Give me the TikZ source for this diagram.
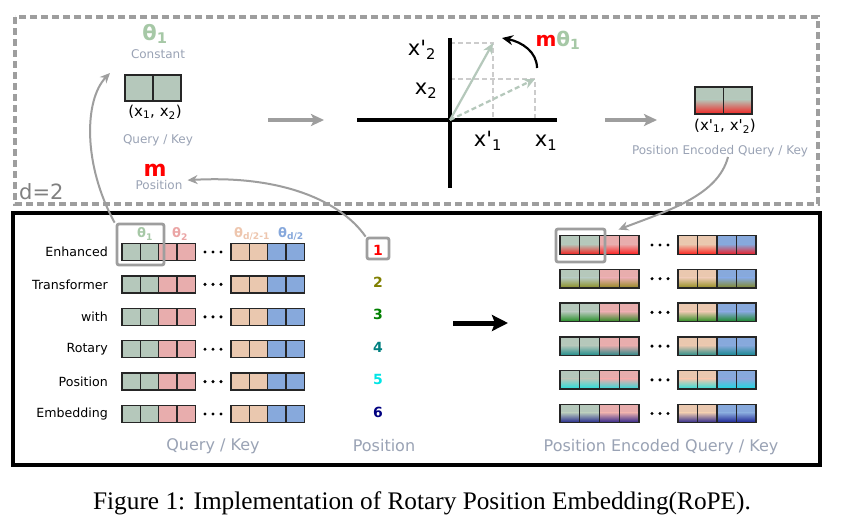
\documentclass[tikz,border=0pt]{standalone}
\usepackage{fontspec}
\setmainfont{DejaVu Sans}
\newfontfamily\capfont{Liberation Serif}
\usetikzlibrary{arrows.meta}
\definecolor{qg}{HTML}{B5C8BB}
\definecolor{qp}{HTML}{E8ADAD}
\definecolor{qo}{HTML}{EAC8AF}
\definecolor{qb}{HTML}{87A9DC}
\definecolor{tg}{HTML}{A6C8A6}
\definecolor{tp}{HTML}{EBA5A5}
\definecolor{to}{HTML}{EEC6AE}
\definecolor{tb}{HTML}{86A8DC}
\definecolor{lbl}{HTML}{9AA3B5}
\definecolor{dgray}{HTML}{9E9E9E}
\definecolor{lgray}{HTML}{CCCCCC}
\definecolor{pcA}{HTML}{FF0000}
\definecolor{pcB}{HTML}{808000}
\definecolor{pcC}{HTML}{008000}
\definecolor{pcD}{HTML}{008080}
\definecolor{pcE}{HTML}{00E5E5}
\definecolor{pcF}{HTML}{000080}
\newcommand\fs[1]{\fontsize{#1}{#1}\selectfont}
% plain row of cells: x0, ytop, w, h, colours
\newcommand\cellsrow[5]{%
  \foreach \cc [count=\ii from 0] in {#5} {
    \fill[\cc] ({#1+\ii*#3},#2) rectangle ++(#3,#4);
    \draw[cellb] ({#1+\ii*#3},#2) rectangle ++(#3,#4);
  }}
% encoded row of cells: x0, ytop, w, h, colours, position colour
\newcommand\gcellsrow[6]{%
  \foreach \cc [count=\ii from 0] in {#5} {
    \fill[\cc] ({#1+\ii*#3},#2) rectangle ++(#3,#4);
    \shade[top color=\cc, bottom color=#6!82!\cc] ({#1+\ii*#3},{#2+0.45*#4}) rectangle ++(#3,{0.55*#4});
    \draw[cellb] ({#1+\ii*#3},#2) rectangle ++(#3,#4);
  }}
\newcommand\threedots[2]{%
  \foreach \dd in {-8,0,8} {\fill (#1+\dd,#2) circle (1.7);}}
\tikzset{
  cellb/.style={draw=black!85, line width=1.4pt},
  smalllbl/.style={font=\fs{12}, text=lbl, inner sep=0pt},
  biglbl/.style={font=\fs{16}, text=lbl, inner sep=0pt},
  rowlbl/.style={font=\fs{12.6}, inner sep=0pt, anchor=east},
  axlbl/.style={font=\fs{21}, inner sep=0pt},
  numlbl/.style={font=\fs{14}\bfseries, inner sep=0pt},
  thlbl/.style={font=\fs{13}\bfseries, inner sep=0pt},
  hlbox/.style={draw=dgray, line width=2.8pt, rounded corners=2pt, inner sep=0pt},
  grayarrow/.style={draw=dgray, line width=2pt, -{Stealth[length=10pt,width=9pt]}},
  fatgray/.style={draw=dgray, line width=4pt, -{Stealth[length=13pt,width=12pt,inset=3pt]}},
  vecarrow/.style={draw=qg, line width=2.2pt, -{Stealth[length=11pt,width=10pt]}},
  guide/.style={draw=lgray, line width=1.8pt, dashed, dash pattern=on 5pt off 3pt},
}
\begin{document}
\begin{tikzpicture}[x=1pt,y=-1pt]
\useasboundingbox (0,0) rectangle (843,531);
\fill[white] (0,0) rectangle (843,531);
% ---------- top dashed panel ----------
\draw[dgray, line width=3.2pt, dash pattern=on 7pt off 4pt] (15,17) rectangle (818,204);
\node[font=\fs{21}, text=black!50, inner sep=0pt, anchor=base west] (dtwo) at (19,199) {d=2};
\node[font=\fs{21}\bfseries, text=tg, inner sep=0pt] (th1) at (155,34) {θ\textsubscript{1}};
\node[smalllbl] (const) at (158,54) {Constant};
\cellsrow{125}{75}{28}{26}{qg,qg}
\node[font=\fs{15}, inner sep=0pt] (qkx) at (155,112) {(x\textsubscript{1}, x\textsubscript{2})};
\node[smalllbl] (qklbl) at (158,140) {Query / Key};
\node[font=\fs{22}\bfseries, text=red, inner sep=0pt] (mm) at (155,170) {m};
\node[smalllbl] (poslbl) at (159,185) {Position};
\coordinate (qkR) at (268,120);
\coordinate (axL) at (324,120);
\draw[fatgray] (qkR) -- (axL);
% axes
\coordinate (orig) at (450,120);
\coordinate (xa) at (357,120);
\coordinate (xb) at (557,120);
\coordinate (ya) at (450,38);
\coordinate (yb) at (450,188);
\coordinate (pnew) at (493,43);
\coordinate (pold) at (535,79);
\draw[guide] (450,43) -- (pnew) -- (493,120);
\draw[guide] (450,79) -- (pold) -- (535,120);
\draw[black, line width=3.2pt] (xa) -- (xb);
\draw[black, line width=3.2pt] (ya) -- (yb);
\draw[vecarrow] (orig) -- (pnew);
\draw[vecarrow, dashed, dash pattern=on 5pt off 3pt] (orig) -- (pold);
\coordinate (rotA) at (537,68);
\coordinate (rotB) at (502,38);
\draw[black, line width=2.2pt, -{Stealth[length=11pt,width=10pt]}] (rotA) .. controls (537,52) and (522,42) .. (rotB);
\node[font=\fs{20}\bfseries, inner sep=0pt] (mth) at (558,40) {\textcolor{red}{m}\textcolor{tg}{θ\textsubscript{1}}};
\node[axlbl] (lx2p) at (422,50) {x\textquotesingle\textsubscript{2}};
\node[axlbl] (lx2) at (426,91) {x\textsubscript{2}};
\node[axlbl] (lx1p) at (488,141) {x\textquotesingle\textsubscript{1}};
\node[axlbl] (lx1) at (546,143) {x\textsubscript{1}};
\coordinate (axR) at (605,120);
\coordinate (peL) at (657,120);
\draw[fatgray] (axR) -- (peL);
\gcellsrow{695}{87}{28.5}{27}{qg,qg}{pcA}
\node[font=\fs{15}, inner sep=0pt] (pex) at (725,126) {(x\textquotesingle\textsubscript{1}, x\textquotesingle\textsubscript{2})};
\node[smalllbl] (peqk) at (720,151) {Position Encoded Query / Key};
% ---------- bottom panel ----------
\draw[black, line width=3.5pt] (13,213) rectangle (820,465);
\node[thlbl, text=tg] (t1) at (145,234) {θ\textsubscript{1}};
\node[thlbl, text=tp] (t2) at (180,234) {θ\textsubscript{2}};
\node[thlbl, text=to] (t3) at (252,234) {θ\textsubscript{d/2-1}};
\node[thlbl, text=tb] (t4) at (291,234) {θ\textsubscript{d/2}};
\foreach \k/\w/\pc in {1/Enhanced/pcA,2/Transformer/pcB,3/with/pcC,4/Rotary/pcD,5/Position/pcE,6/Embedding/pcF} {
  \pgfmathsetmacro\yc{252+32.4*(\k-1)}
  \node[rowlbl] (row\k) at (108,\yc) {\w};
  \cellsrow{122}{\yc-8.5}{18.3}{17}{qg,qg,qp,qp}
  \threedots{213}{\yc}
  \cellsrow{231}{\yc-8.5}{18.3}{17}{qo,qo,qb,qb}
  \node[numlbl, text=\pc] (num\k) at (378,\yc-2) {\k};
  \pgfmathsetmacro\yr{245+33.7*(\k-1)}
  \gcellsrow{560}{\yr-9.25}{19.75}{18.5}{qg,qg,qp,qp}{\pc}
  \threedots{660}{\yr}
  \gcellsrow{678}{\yr-9.25}{19.5}{18.5}{qo,qo,qb,qb}{\pc}
}
\node[hlbox, minimum width=47pt, minimum height=41pt] (hlL) at (140.5,244.5) {};
\node[hlbox, minimum width=22pt, minimum height=21pt] (p1box) at (378,248.5) {};
\node[hlbox, minimum width=49pt, minimum height=33pt] (hlR) at (580.5,245.5) {};
\node[biglbl] (bqk) at (213,446) {Query / Key};
\node[biglbl] (bpos) at (384,446) {Position};
\node[biglbl] (bpe) at (661,447) {Position Encoded Query / Key};
\coordinate (bigA) at (453,323);
\coordinate (bigB) at (508,323);
\draw[black, line width=5pt, -{Stealth[length=16pt,width=16pt,inset=3pt]}] (bigA) -- (bigB);
% ---------- curved connectors ----------
\draw[grayarrow] ([xshift=-1pt]hlL.north west) .. controls (83,165) and (84,100) .. (110,73);
\draw[grayarrow] (p1box.north west) .. controls (340,200) and (280,175) .. ([xshift=5pt]poslbl.north east);
\draw[grayarrow] ([xshift=8pt]peqk.south) .. controls (718,195) and (670,210) .. ([xshift=12pt,yshift=-2pt]hlR.north east);
% ---------- caption ----------
\node[font=\capfont\fs{25.3}, inner sep=0pt] (cap) at (422,503) {Figure 1: Implementation of Rotary Position Embedding(RoPE).};
\end{tikzpicture}
\end{document}
